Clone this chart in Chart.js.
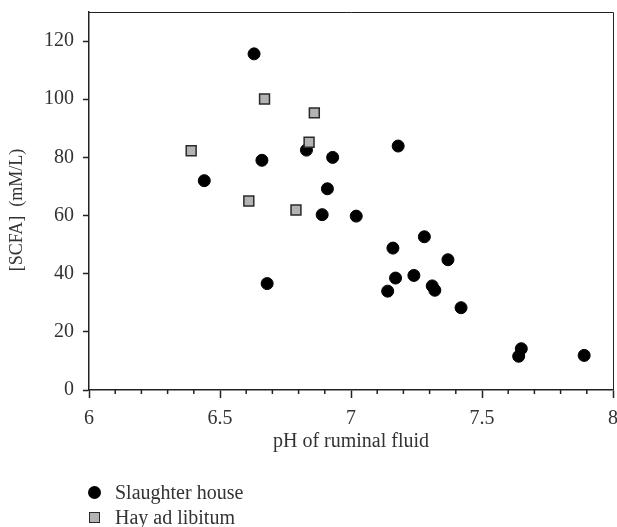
<!DOCTYPE html>
<html>
<head>
<meta charset="utf-8">
<script src="https://cdn.jsdelivr.net/npm/chart.js@4.4.0/dist/chart.umd.min.js"></script>
<style>
  body { margin: 0; background: #fff; }
  #wrap { position: relative; width: 617px; height: 527px; }
  #legend { position: absolute; left: 88px; top: 480px; font-family: "Liberation Serif", serif; font-size: 20px; color: #333; line-height: 25px; }
  #legend div { display: flex; align-items: center; }
  #legend span.mk { display: inline-block; box-sizing: border-box; }
</style>
</head>
<body>
<div id="wrap">
  <canvas id="myChart" width="617" height="527"></canvas>
  <div id="legend"></div>
</div>
<script>
// Slaughter house
const slaughterPH   = [6.63, 6.66, 6.44, 6.83, 6.93, 6.89, 6.91, 7.02, 7.18, 7.28, 7.16, 7.37, 7.24, 7.17, 7.14, 7.31, 7.32, 7.42, 7.65, 7.64, 7.89, 6.68];
const slaughterSCFA = [115.6, 79, 72, 82.5, 80, 60.3, 69.2, 59.8, 83.9, 52.7, 48.8, 44.8, 39.4, 38.5, 34, 35.8, 34.3, 28.3, 14.2, 11.6, 11.9, 36.6];
// Hay ad libitum
const hayPH   = [6.39, 6.67, 6.86, 6.84, 6.61, 6.79];
const haySCFA = [82.3, 100.1, 95.3, 85.2, 65, 61.9];

const seriesLabels = ['Slaughter house', 'Hay ad libitum'];
const xTicks = [6, 6.5, 7, 7.5, 8];

const toPoints = (xs, ys) => xs.map((x, i) => ({x: x, y: ys[i]}));

const ink = '#333';
const serif = '"Liberation Serif", "Times New Roman", serif';

// minor ticks on x axis + box frame
const framePlugin = {
  id: 'frame',
  afterDraw(chart) {
    const {ctx, chartArea: a} = chart;
    const xs = chart.scales.x;
    ctx.save();
    ctx.strokeStyle = '#222';
    ctx.lineWidth = 1;
    ctx.beginPath();
    ctx.moveTo(a.left, a.top + 0.5);
    ctx.lineTo(a.right + 0.5, a.top + 0.5);
    ctx.lineTo(a.right + 0.5, a.bottom);
    ctx.stroke();
    ctx.lineWidth = 1.5;
    ctx.beginPath();
    for (let i = 61; i < 80; i++) {
      if (i % 5 === 0) continue;
      const px = xs.getPixelForValue(i / 10);
      ctx.moveTo(px, a.bottom);
      ctx.lineTo(px, a.bottom + 4);
    }
    ctx.stroke();
    ctx.restore();
  }
};

const data = {
  datasets: [{
    label: seriesLabels[0],
    data: toPoints(slaughterPH, slaughterSCFA),
    pointStyle: 'circle',
    pointRadius: 6,
    pointBorderWidth: 1,
    backgroundColor: '#000',
    borderColor: '#000',
    order: 1
  }, {
    label: seriesLabels[1],
    data: toPoints(hayPH, haySCFA),
    pointStyle: 'rect',
    pointRadius: 7,
    pointBorderWidth: 1.5,
    backgroundColor: '#b3b3b3',
    borderColor: '#2a2a2a',
    order: 0
  }]
};

const config = {
  type: 'scatter',
  data,
  options: {
    responsive: false,
    animation: false,
    layout: { autoPadding: false, padding: { top: 12, right: 0, left: 0, bottom: 0 } },
    plugins: { legend: { display: false }, tooltip: { enabled: false } },
    scales: {
      x: {
        type: 'linear',
        min: 6, max: 8,
        afterFit: s => { s.height = 137; s.paddingRight = 4; s.paddingLeft = 0; },
        afterBuildTicks: s => { s.ticks = xTicks.map(v => ({value: v})); },
        ticks: {
          color: ink, padding: 9,
          font: { family: serif, size: 20 },
          callback: v => String(+v.toFixed(1))
        },
        grid: { drawOnChartArea: false, drawTicks: true, tickLength: 8, tickColor: '#222', tickWidth: 1.5 },
        border: { display: true, color: '#222', width: 1.5 },
        title: {
          display: true, text: 'pH of ruminal fluid', color: ink,
          font: { family: serif, size: 20 },
          padding: { top: 0, bottom: 73 }
        }
      },
      y: {
        min: 0, max: 130,
        afterFit: s => { s.width = 89; s.paddingTop = 0; s.paddingBottom = 0; },
        ticks: {
          stepSize: 20, includeBounds: false, color: ink, padding: 9,
          font: { family: serif, size: 20 }
        },
        grid: { drawOnChartArea: false, drawTicks: true, tickLength: 6, tickColor: '#222', tickWidth: 1.5 },
        border: { display: true, color: '#222', width: 1.5 },
        title: {
          display: true, text: '[SCFA]  (mM/L)    ', color: ink,
          font: { family: serif, size: 18 },
          padding: { top: 6, bottom: 0 }
        }
      }
    }
  },
  plugins: [framePlugin]
};

const myChart = new Chart(document.getElementById('myChart'), config);

// legend built from the datasets
const legend = document.getElementById('legend');
myChart.data.datasets.forEach(ds => {
  const row = document.createElement('div');
  const mk = document.createElement('span');
  mk.className = 'mk';
  if (ds.pointStyle === 'circle') {
    mk.style.cssText = 'width:13px;height:13px;margin-right:14px;border-radius:50%;background:' + ds.backgroundColor;
  } else {
    mk.style.cssText = 'width:11px;height:11px;margin-left:1px;margin-right:15px;background:' + ds.backgroundColor + ';border:1.5px solid ' + ds.borderColor;
  }
  row.appendChild(mk);
  row.appendChild(document.createTextNode(ds.label));
  legend.appendChild(row);
});
</script>
</body>
</html>
